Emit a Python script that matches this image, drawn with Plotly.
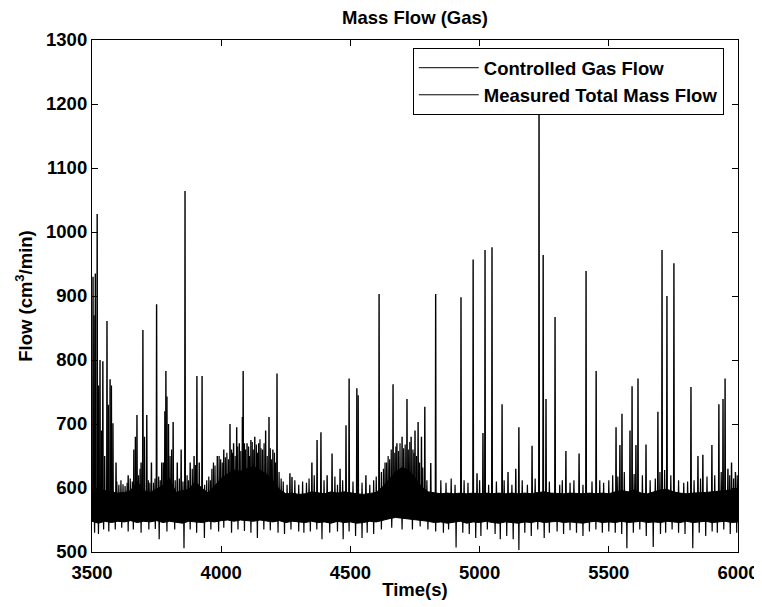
import plotly.graph_objects as go

# ---------------- data ----------------
band_time = [3500, 3525, 3550, 3575, 3600, 3625, 3650, 3675, 3700, 3725,
             3750, 3775, 3800, 3825, 3850, 3875, 3900, 3925, 3950, 3975,
             4000, 4025, 4050, 4075, 4100, 4125, 4150, 4175, 4200, 4225,
             4250, 4275, 4300, 4325, 4350, 4375, 4400, 4425, 4450, 4475,
             4500, 4525, 4550, 4575, 4600, 4625, 4650, 4675, 4700, 4725,
             4750, 4775, 4800, 4825, 4850, 4875, 4900, 4925, 4950, 4975,
             5000, 5025, 5050, 5075, 5100, 5125, 5150, 5175, 5200, 5225,
             5250, 5275, 5300, 5325, 5350, 5375, 5400, 5425, 5450, 5475,
             5500, 5525, 5550, 5575, 5600, 5625, 5650, 5675, 5700, 5725,
             5750, 5775, 5800, 5825, 5850, 5875, 5900, 5925, 5950, 5975, 6000]

band_hi = [598, 600, 596, 594, 592, 593, 596, 610, 596, 593,
           598, 604, 615, 593, 596, 598, 610, 600, 592, 604,
           615, 622, 628, 626, 630, 634, 628, 622, 612, 598,
           591, 592, 590, 591, 594, 592, 591, 594, 592, 594,
           592, 591, 590, 591, 593, 602, 614, 625, 632, 628,
           616, 602, 594, 592, 591, 592, 591, 592, 591, 592,
           591, 592, 591, 592, 591, 592, 591, 592, 591, 593,
           594, 592, 591, 591, 592, 591, 591, 592, 591, 592,
           591, 594, 596, 594, 597, 592, 591, 594, 597, 598,
           594, 592, 591, 592, 592, 593, 594, 595, 596, 597, 598]

band_lo = [548, 545, 548, 546, 548, 547, 549, 546, 548, 547,
           549, 546, 548, 547, 545, 548, 547, 546, 548, 547,
           549, 550, 548, 550, 549, 548, 550, 548, 547, 549,
           546, 548, 547, 546, 548, 546, 547, 545, 548, 546,
           547, 545, 546, 548, 547, 550, 552, 554, 553, 552,
           551, 549, 548, 546, 547, 545, 546, 548, 545, 547,
           546, 548, 546, 545, 547, 546, 545, 547, 546, 548,
           546, 547, 548, 546, 547, 546, 545, 547, 548, 546,
           547, 546, 548, 546, 547, 548, 546, 547, 546, 548,
           547, 546, 548, 546, 547, 548, 546, 547, 548, 546, 547]

spike_time = [3504, 3508, 3513, 3520, 3526, 3531, 3537, 3542, 3549, 3558,
              3563, 3570, 3575, 3581, 3593, 3640, 3662, 3668, 3674, 3690,
              3697, 3703, 3712, 3730, 3750, 3770, 3782, 3786, 3790, 3796,
              3814, 3830, 3845, 3860, 3880, 3895, 3906, 3915, 3926, 3985,
              4010, 4034, 4048, 4060, 4070, 4082, 4085, 4100, 4115, 4130,
              4145, 4160, 4172, 4185, 4200, 4216, 4266, 4274, 4351, 4371,
              4386, 4410, 4429, 4460, 4483, 4495, 4525, 4530, 4560, 4611,
              4640, 4665, 4680, 4700, 4719, 4735, 4750, 4762, 4775, 4788,
              4811, 4830, 4928, 4975, 4990, 5013, 5021, 5048, 5087, 5110,
              5140, 5152, 5203, 5230, 5246, 5257, 5292, 5334, 5385, 5412,
              5451, 5528, 5543, 5551, 5582, 5590, 5605, 5613, 5644, 5690,
              5706, 5725, 5752, 5818, 5845, 5864, 5899, 5926, 5942, 5950,
              5961, 5975, 5990]
spike_peak = [930, 870, 935, 1028, 760, 800, 690, 798, 650, 861,
              730, 770, 760, 701, 640, 620, 660, 680, 714, 640,
              847, 680, 714, 640, 887, 640, 720, 783, 743, 700,
              703, 640, 660, 1064, 640, 650, 775, 640, 775, 650,
              660, 700, 670, 695, 670, 711, 783, 670, 675, 680,
              670, 660, 690, 711, 660, 779, 623, 617, 640, 675,
              687, 620, 654, 630, 698, 771, 756, 745, 620, 903,
              640, 762, 670, 680, 739, 680, 690, 703, 680, 727,
              639, 903, 898, 957, 623, 686, 972, 976, 731, 625,
              630, 695, 666, 1240, 964, 739, 867, 658, 654, 939,
              783, 695, 667, 716, 690, 759, 667, 771, 668, 719,
              972, 900, 951, 758, 650, 652, 667, 731, 739, 771,
              630, 640, 625]

# short teeth that roughen the top of the noise band (incl. the two bursts)
tooth_time = [3596, 3604, 3612, 3620, 3628, 3636, 3648, 3656, 3680, 3686,
              3718, 3724, 3738, 3744, 3758, 3764, 3776, 3802, 3808, 3822,
              3838, 3852, 3868, 3874, 3888, 3900, 3936, 3944, 3952, 3958,
              3964, 3970, 3976, 3992, 3998, 4004, 4016, 4022, 4028, 4040,
              4044, 4054, 4064, 4076, 4090, 4094, 4106, 4110, 4120, 4124,
              4136, 4140, 4150, 4154, 4166, 4178, 4190, 4194, 4206, 4210,
              4224, 4232, 4240, 4255, 4285, 4300, 4315, 4330, 4340, 4360,
              4398, 4440, 4450, 4470, 4510, 4545, 4575, 4590, 4600, 4620,
              4628, 4634, 4646, 4652, 4658, 4672, 4676, 4686, 4692, 4706,
              4712, 4724, 4730, 4742, 4746, 4756, 4768, 4780, 4796, 4850,
              4870, 4890, 4905, 4940, 4955, 5000, 5035, 5065, 5095, 5125,
              5165, 5185, 5215, 5270, 5310, 5320, 5350, 5365, 5400, 5435,
              5465, 5480, 5500, 5515, 5535, 5560, 5598, 5630, 5660, 5680,
              5698, 5716, 5740, 5770, 5790, 5805, 5830, 5855, 5880, 5910,
              5935, 5968, 5983, 5997]
tooth_peak = [610, 605, 612, 606, 603, 608, 615, 610, 620, 630,
              612, 608, 608, 615, 618, 612, 640, 650, 660, 612,
              615, 610, 620, 612, 630, 636, 605, 612, 618, 612,
              630, 640, 635, 650, 645, 640, 648, 655, 645, 660,
              655, 650, 665, 658, 670, 660, 665, 650, 672, 660,
              668, 655, 676, 662, 670, 650, 662, 645, 655, 640,
              625, 615, 610, 605, 612, 605, 610, 608, 615, 620,
              612, 618, 605, 612, 610, 608, 605, 612, 618, 625,
              630, 640, 650, 645, 660, 655, 665, 658, 670, 662,
              668, 660, 672, 660, 655, 650, 640, 632, 612, 612,
              608, 615, 605, 612, 608, 612, 605, 610, 612, 605,
              612, 605, 615, 610, 605, 612, 608, 612, 605, 610,
              612, 608, 612, 620, 618, 625, 622, 620, 612, 615,
              625, 628, 620, 612, 608, 610, 612, 615, 618, 620,
              625, 620, 615, 620]

dip_time = [3510, 3525, 3545, 3565, 3590, 3615, 3640, 3660, 3690, 3720,
            3745, 3760, 3790, 3820, 3856, 3880, 3905, 3935, 3960, 3990,
            4010, 4040, 4065, 4090, 4115, 4140, 4165, 4190, 4220, 4245,
            4270, 4300, 4320, 4345, 4370, 4390, 4420, 4450, 4472, 4495,
            4520, 4545, 4565, 4590, 4620, 4660, 4700, 4740, 4770, 4800,
            4830, 4860, 4880, 4909, 4935, 4960, 4985, 5005, 5030, 5060,
            5080, 5105, 5130, 5152, 5175, 5200, 5225, 5250, 5270, 5300,
            5325, 5350, 5375, 5400, 5425, 5450, 5475, 5500, 5525, 5550,
            5570, 5595, 5620, 5645, 5672, 5700, 5720, 5745, 5770, 5795,
            5825, 5850, 5875, 5900, 5920, 5945, 5970, 5995]
dip_low = [530, 528, 535, 532, 535, 538, 532, 535, 530, 535,
           536, 520, 532, 535, 506, 535, 530, 522, 535, 532,
           538, 530, 535, 533, 530, 522, 535, 534, 530, 528,
           535, 532, 530, 532, 535, 520, 530, 532, 520, 532,
           525, 522, 530, 528, 535, 538, 535, 535, 540, 535,
           532, 530, 535, 507, 530, 528, 522, 525, 535, 528,
           520, 525, 520, 503, 530, 525, 535, 522, 530, 532,
           528, 534, 530, 525, 532, 535, 530, 532, 530, 528,
           506, 530, 535, 525, 508, 528, 530, 535, 530, 528,
           506, 530, 525, 532, 530, 535, 528, 530]

ctrl_time = [3500, 6000]
ctrl_flow = [570, 570]

x_ticks = [3500, 4000, 4500, 5000, 5500, 6000]
y_ticks = [500, 600, 700, 800, 900, 1000, 1100, 1200, 1300]

# ---------------- build figure ----------------
BASE = 575


def segs(ts, vs, half):
    xs, ys = [], []
    for t, v in zip(ts, vs):
        xs += [t - half, t, t + half, None]
        ys += [BASE, v, BASE, None]
    return xs, ys


FONT = "Liberation Sans, Arial, Helvetica, sans-serif"
FS = 18.5
tfont = dict(size=FS, color="black", family=FONT, weight="bold")

fig = go.Figure()

fig.add_trace(go.Scatter(x=ctrl_time, y=ctrl_flow, mode="lines",
                         name="Controlled Gas Flow",
                         line=dict(color="black", width=1)))
# lower edge of the measured noise band (carries the legend entry)
fig.add_trace(go.Scatter(x=band_time, y=band_lo, mode="lines",
                         name="Measured Total Mass Flow",
                         line=dict(color="black", width=1), hoverinfo="skip"))
fig.add_trace(go.Scatter(x=band_time, y=band_hi, mode="lines",
                         line=dict(color="black", width=1),
                         fill="tonexty", fillcolor="black",
                         showlegend=False, hoverinfo="skip"))

tx, ty = segs(tooth_time, tooth_peak, 1.6)
fig.add_trace(go.Scatter(x=tx, y=ty, mode="lines",
                         line=dict(color="black", width=1.2),
                         showlegend=False, hoverinfo="skip"))
dx, dy = segs(dip_time, dip_low, 1.6)
fig.add_trace(go.Scatter(x=dx, y=dy, mode="lines",
                         line=dict(color="black", width=1.2),
                         showlegend=False, hoverinfo="skip"))
sx, sy = segs(spike_time, spike_peak, 1.2)
fig.add_trace(go.Scatter(x=sx, y=sy, mode="lines",
                         line=dict(color="black", width=1.4),
                         showlegend=False))

axis_common = dict(showline=True, linecolor="black", linewidth=1.2,
                   mirror="ticks", ticks="inside", ticklen=6,
                   tickcolor="black", showgrid=False, zeroline=False,
                   automargin=False, tickfont=tfont)

fig.update_xaxes(range=[3500, 6000], tickvals=x_ticks,
                 ticktext=[str(v) for v in x_ticks],
                 ticklabelstandoff=4,
                 title=dict(text="Time(s)", standoff=0, font=tfont),
                 **axis_common)
fig.update_yaxes(range=[500, 1300], tickvals=y_ticks,
                 ticktext=[str(v) for v in y_ticks],
                 title=dict(text="Flow (cm<sup>3</sup>/min)", standoff=8, font=tfont),
                 **axis_common)

# the page adds an 8 px body margin, so the figure is 8 px smaller
fig.update_layout(
    width=754, height=599,
    margin=dict(l=84, r=24, t=32, b=55),
    paper_bgcolor="white", plot_bgcolor="white",
    title=dict(text="Mass Flow (Gas)", x=407 / 754, xanchor="center",
               y=1 - 10 / 599, yanchor="middle", font=tfont),
    font=dict(family=FONT, color="black", size=FS),
    legend=dict(x=0.978, y=0.984, xanchor="right", yanchor="top",
                traceorder="normal", itemwidth=60,
                bgcolor="white", bordercolor="black", borderwidth=1,
                font=tfont, tracegroupgap=0),
    showlegend=True,
)

fig.write_html("out.html")
